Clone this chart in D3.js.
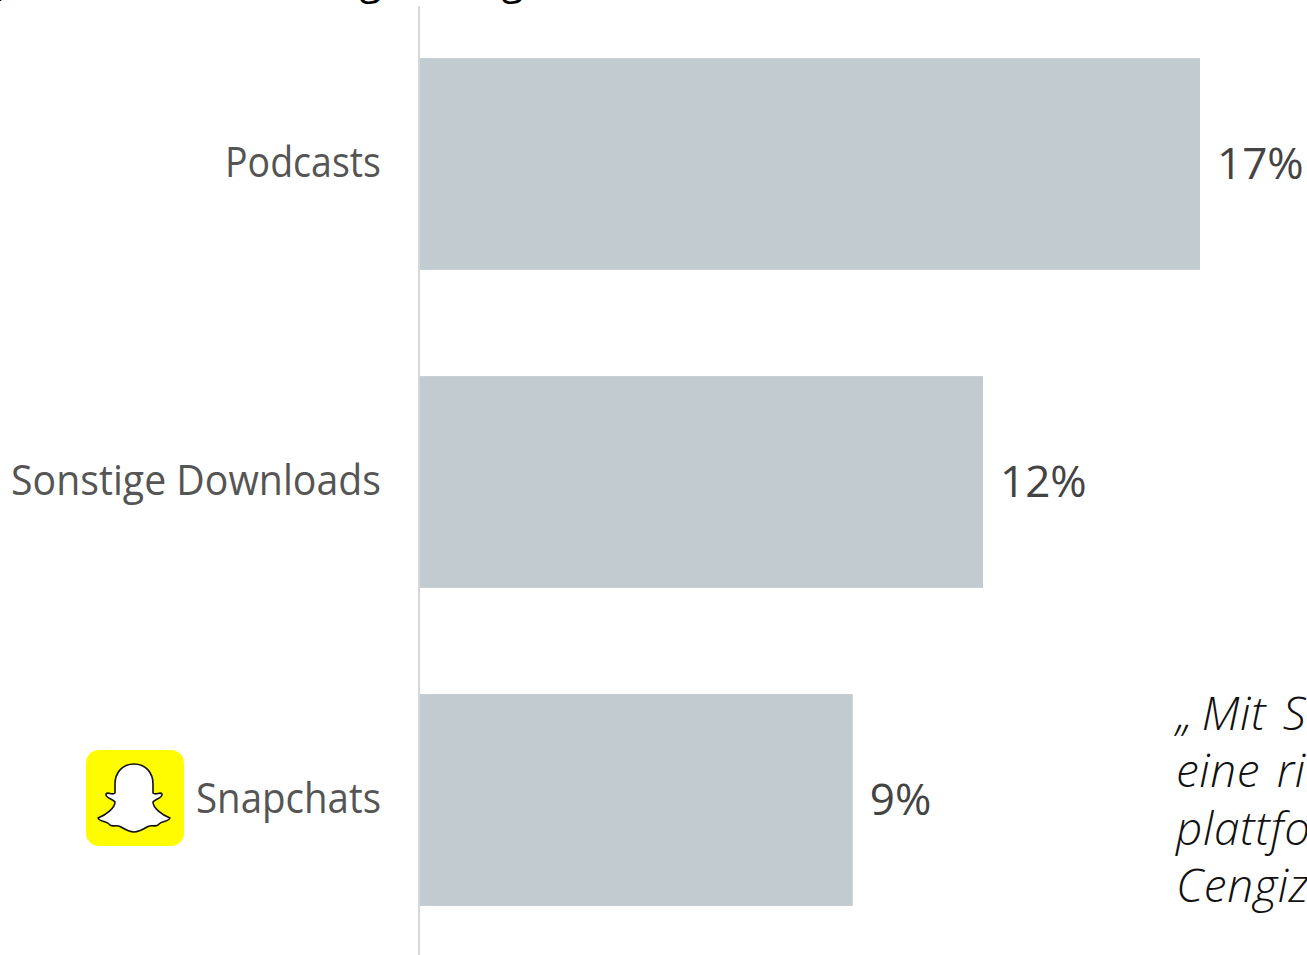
<!DOCTYPE html>
<html lang="de">
<head>
<meta charset="utf-8">
<style>
  html, body { margin: 0; background: #fff; overflow: hidden; }
  svg { display: block; }
</style>
<script src="https://cdnjs.cloudflare.com/ajax/libs/d3/7.8.5/d3.min.js"></script>
</head>
<body>
<script>
const categories = ["Podcasts", "Sonstige Downloads", "Snapchats"];
const shares = [17, 12, 9];
const labelWidths = [156, 370, 185];
const quoteLines = ["„\u2009Mit S", "eine ric", "plattfo", "Cengiz"];
// Descenders of the headline that sits above the top edge
const headlineGlyphs = [
  { glyph: ",", at: 0 },
  { glyph: "g", at: 362 },
  { glyph: "g", at: 504 }
];

const width = 1307, height = 955;
const sans = "'Open Sans', 'Noto Sans', sans-serif";

const svg = d3.select("body").append("svg")
  .attr("width", width).attr("height", height);

// The value axis starts just below zero, so the bars carry a fixed stub.
const x = d3.scaleLinear().domain([-0.97, 17]).range([420, 1200]);
const y = d3.scaleBand().domain(categories).range([5, 959]).paddingInner(0.334).paddingOuter(0.167);

svg.selectAll("text.headline").data(headlineGlyphs).join("text")
  .attr("class", "headline")
  .attr("x", d => d.at)
  .attr("y", d => d.glyph === "g" ? -7 : -5)
  .attr("font-family", sans)
  .attr("font-style", "italic")
  .attr("font-size", 44)
  .attr("fill", "#000")
  .text(d => d.glyph);

// Baseline
svg.append("line")
  .attr("x1", 419).attr("x2", 419).attr("y1", 6).attr("y2", height)
  .attr("stroke", "#d5d8da").attr("stroke-width", 2);

// Bars
svg.selectAll("rect.bar").data(categories).join("rect")
  .attr("class", "bar")
  .attr("x", x.range()[0])
  .attr("y", d => y(d))
  .attr("width", (d, i) => x(shares[i]) - x.range()[0])
  .attr("height", y.bandwidth())
  .attr("fill", "#c1cbd0");

// Category labels
svg.selectAll("text.cat").data(categories).join("text")
  .attr("class", "cat")
  .attr("x", 381)
  .attr("y", d => y(d) + y.bandwidth() / 2 + 13)
  .attr("text-anchor", "end")
  .attr("font-family", sans)
  .attr("font-size", 42)
  .attr("fill", "#555555")
  .attr("textLength", (d, i) => labelWidths[i])
  .attr("lengthAdjust", "spacingAndGlyphs")
  .text(d => d);

// Value labels
svg.selectAll("text.val").data(shares).join("text")
  .attr("class", "val")
  .attr("x", d => x(d) + 17)
  .attr("y", (d, i) => y(categories[i]) + y.bandwidth() / 2 + 15)
  .attr("font-family", sans)
  .attr("font-size", 44)
  .attr("fill", "#444444")
  .text(d => d + "%");

// Snapchat badge
const badge = svg.append("g").attr("transform", "translate(86,750)");
badge.append("rect").attr("width", 98).attr("height", 96).attr("rx", 13).attr("fill", "#fffc00");
badge.append("path")
  .attr("d", "M48 14 C36 14 29 23 29 34 L29 43 C26 46 22 41 20 44 C19 48 27 49 29 52 C29 58 20 65 12 68 C14 72 20 71 23 74 C25 78 30 74 35 77 C40 80 44 82 48 82 C52 82 56 80 61 77 C66 74 71 78 73 74 C76 71 82 72 84 68 C76 65 67 58 67 52 C69 49 77 48 76 44 C74 41 70 46 67 43 L67 34 C67 23 60 14 48 14 Z")
  .attr("fill", "#fff").attr("stroke", "#111").attr("stroke-width", 1.6).attr("stroke-linejoin", "round");

// Pull quote running off the right edge
svg.selectAll("text.quote").data(quoteLines).join("text")
  .attr("class", "quote")
  .attr("x", 1176)
  .attr("y", (d, i) => 730 + i * 57.3)
  .attr("font-family", sans)
  .attr("font-style", "italic")
  .attr("font-weight", 300)
  .attr("font-size", 46)
  .attr("letter-spacing", 0.6)
  .attr("word-spacing", 4)
  .attr("fill", "#111")
  .text(d => d);
</script>
</body>
</html>
